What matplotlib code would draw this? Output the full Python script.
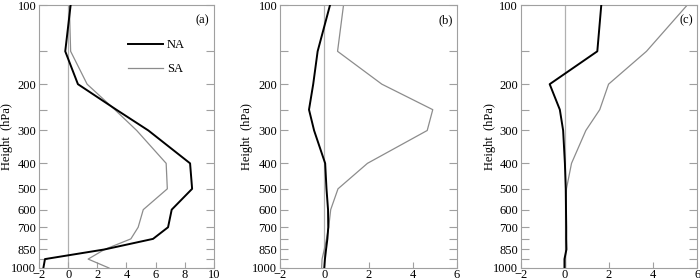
import matplotlib
matplotlib.use("Agg")
import matplotlib.pyplot as plt

plt.rcParams['font.family'] = ['Liberation Serif', 'DejaVu Serif']
plt.rcParams['font.size'] = 9

# pressure levels (hPa)
levels = [100, 150, 200, 250, 300, 400, 500, 600, 700, 775, 850, 925, 1000]
labeled = [100, 200, 300, 400, 500, 600, 700, 850, 1000]

# panel (a)
na_a = [0.17, -0.2, 0.67, 3.3, 5.5, 8.36, 8.5, 7.1, 6.85, 5.82, 2.5, -1.59, -1.7]
sa_a = [0.08, 0.17, 1.3, 3.2, 4.7, 6.72, 6.8, 5.15, 4.8, 4.3, 2.5, 1.37, 2.8]
# panel (b)
na_b = [0.26, -0.3, -0.5, -0.69, -0.46, 0.04, 0.1, 0.17, 0.18, 0.14, 0.08, 0.03, 0.0]
sa_b = [0.87, 0.6, 2.6, 4.9, 4.65, 1.95, 0.62, 0.29, 0.2, 0.1, 0.0, -0.1, -0.12]
# panel (c)
na_c = [1.65, 1.47, -0.69, -0.23, -0.08, 0.0, 0.04, 0.05, 0.06, 0.06, 0.07, -0.02, -0.02]
sa_c = [5.55, 3.7, 1.98, 1.58, 0.95, 0.3, 0.07, 0.05, 0.04, 0.04, 0.04, 0.03, 0.03]

panels = [
    ("(a)", na_a, sa_a, (-2, 10), [-2, 0, 2, 4, 6, 8, 10]),
    ("(b)", na_b, sa_b, (-2, 6), [-2, 0, 2, 4, 6]),
    ("(c)", na_c, sa_c, (-2, 6), [-2, 0, 2, 4, 6]),
]
# axes rectangles in figure fractions
rects = [
    [0.0557, 0.036, 0.250, 0.946],
    [0.400, 0.036, 0.253, 0.946],
    [0.744, 0.036, 0.252, 0.946],
]
ylabel_x = [-0.18, -0.184, -0.176]

fig = plt.figure(figsize=(7, 2.78), dpi=100)
frame_col = '#a0a0a0'

for (tag, na, sa, xlim, xticks), rect, lx in zip(panels, rects, ylabel_x):
    ax = fig.add_axes(rect)
    ax.axvline(0, color='#b0b0b0', linewidth=0.9, zorder=1)
    ax.plot(na, levels, color='black', linewidth=1.4, label='NA', zorder=3)
    ax.plot(sa, levels, color='#8c8c8c', linewidth=0.9, label='SA', zorder=2)

    ax.set_yscale('log')
    ax.set_ylim(1000, 100)
    ax.set_xlim(*xlim)
    ax.set_yticks(levels)
    ax.set_yticklabels([str(p) if p in labeled else '' for p in levels])
    ax.minorticks_off()
    ax.set_xticks(xticks)
    ax.set_xticklabels([('\u2212' + str(-t)) if t < 0 else str(t) for t in xticks])

    ax.tick_params(axis='y', direction='in', left=True, right=True, length=6,
                   color=frame_col, width=0.8, pad=2)
    ax.tick_params(axis='x', direction='in', bottom=True, top=False, length=4,
                   color=frame_col, width=0.8, pad=1)
    for sp in ax.spines.values():
        sp.set_color(frame_col)
        sp.set_linewidth(0.8)

    ax.set_ylabel('Height  (hPa)', va='center')
    ax.yaxis.set_label_coords(lx, 0.5)
    ax.text(0.975, 0.965, tag, transform=ax.transAxes, ha='right', va='top')

    if tag == "(a)":
        ax.legend(loc='upper left', bbox_to_anchor=(0.48, 0.89), frameon=False,
                  handlelength=2.8, handletextpad=0.3, labelspacing=1.0,
                  borderaxespad=0)

fig.savefig('out.png', dpi=100)
